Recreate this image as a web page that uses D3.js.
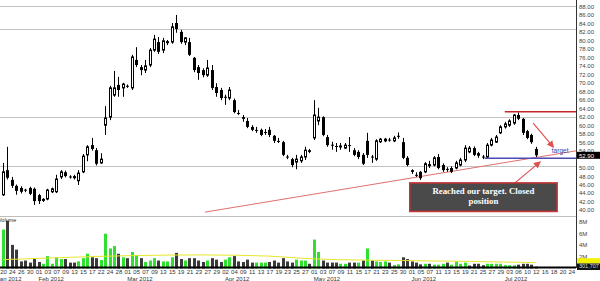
<!DOCTYPE html>
<html>
<head>
<meta charset="utf-8">
<script src="https://cdn.jsdelivr.net/npm/d3@7"></script>
<style>
  body { margin: 0; background: #fff; }
  svg { display: block; }
</style>
</head>
<body>
<div id="chart"></div>
<script>
// OHLC per trading day, Jan 20 2012 (index 0) .. Jul 12 2012 (index 120)
const opens = [
  43.6, 49.4, 47.1, 45.7, 45.2, 44.8, 45.2, 45.0, 43.5, 42.4,
  42.6, 44.3, 44.3, 47.8, 48.9, 47.9, 48.0, 46.9, 49.0, 53.0,
  55.3, 54.1, 51.1, 60.0, 61.9, 67.1, 69.5, 68.8, 69.3, 68.8,
  75.4, 73.7, 73.0, 74.2, 77.7, 79.6, 77.7, 79.6, 79.6, 84.1,
  82.0, 79.6, 79.6, 75.9, 73.7, 73.0, 71.8, 73.0, 69.0, 68.3,
  66.7, 66.4, 65.9, 62.9, 61.9, 61.0, 59.6, 58.9, 58.9, 58.4,
  58.9, 57.5, 56.3, 56.0, 52.6, 52.0, 51.3, 51.6, 52.5, 54.1,
  57.0, 61.0, 61.9, 57.2, 55.4, 55.1, 55.0, 54.6, 55.3, 54.1,
  53.7, 53.0, 56.3, 52.6, 52.0, 56.1, 56.3, 56.6, 56.3, 57.5,
  56.0, 52.3, 49.4, 48.3, 49.0, 49.0, 50.6, 50.6, 52.5, 50.6,
  49.7, 49.9, 49.9, 50.6, 51.8, 53.7, 54.6, 53.4, 52.6, 52.5,
  55.3, 56.0, 58.2, 59.6, 60.0, 60.5, 62.4, 61.5, 58.6, 57.7,
  54.4
];
const highs = [
  51.1, 54.9, 47.8, 46.0, 45.6, 45.0, 45.5, 45.3, 43.8, 42.8,
  45.0, 45.3, 48.3, 49.4, 49.3, 48.2, 48.3, 49.4, 53.2, 55.3,
  57.0, 54.6, 53.4, 64.5, 69.3, 72.8, 71.4, 70.0, 69.6, 76.6,
  78.4, 74.2, 75.4, 78.2, 81.3, 80.8, 80.6, 80.1, 84.1, 86.0,
  82.5, 80.8, 80.6, 76.1, 74.2, 73.4, 75.4, 74.2, 69.9, 68.8,
  67.2, 69.0, 66.3, 63.6, 62.4, 61.7, 60.0, 59.6, 59.2, 59.1,
  59.6, 57.7, 57.0, 56.3, 53.0, 52.3, 53.0, 53.0, 54.9, 54.4,
  65.9, 64.1, 62.1, 57.7, 56.1, 55.8, 55.8, 55.8, 57.2, 54.6,
  54.1, 53.4, 58.2, 53.0, 56.7, 57.0, 57.0, 57.0, 57.5, 58.3,
  57.0, 52.7, 49.6, 48.9, 49.2, 51.3, 51.6, 52.7, 53.2, 51.0,
  50.1, 50.3, 51.6, 52.3, 55.3, 55.1, 55.0, 53.7, 53.0, 55.8,
  57.0, 57.7, 60.0, 60.8, 61.4, 62.6, 63.0, 61.7, 58.9, 58.0,
  54.9
];
const lows = [
  43.3, 47.2, 45.2, 43.6, 43.9, 44.2, 43.5, 41.2, 41.4, 41.9,
  42.3, 44.0, 44.0, 47.3, 47.7, 47.4, 47.2, 45.9, 48.7, 51.5,
  54.0, 50.5, 50.9, 57.7, 61.2, 66.7, 66.7, 66.7, 68.8, 68.3,
  73.7, 71.8, 72.3, 73.7, 77.3, 76.8, 77.0, 78.9, 79.2, 81.8,
  79.2, 78.9, 76.3, 72.5, 70.7, 71.3, 71.4, 68.3, 66.7, 65.9,
  64.8, 65.9, 62.8, 62.4, 60.8, 59.3, 58.6, 58.2, 57.4, 57.7,
  57.2, 55.8, 55.8, 52.7, 52.0, 50.1, 49.6, 51.1, 51.8, 53.4,
  56.5, 60.0, 57.4, 54.9, 54.2, 53.7, 54.2, 54.4, 53.7, 52.7,
  52.0, 50.6, 52.3, 51.1, 51.6, 55.8, 56.0, 56.1, 56.0, 56.8,
  52.0, 50.3, 48.5, 47.8, 47.1, 48.7, 49.9, 50.3, 49.6, 49.0,
  49.0, 48.7, 49.6, 50.3, 51.3, 53.4, 52.7, 52.3, 52.0, 52.1,
  55.0, 55.8, 57.9, 59.2, 59.6, 60.1, 61.2, 57.7, 56.7, 55.6,
  52.5
];
const closes = [
  49.0, 47.6, 45.7, 44.5, 44.3, 44.7, 43.8, 42.1, 42.1, 42.5,
  44.7, 45.0, 47.3, 49.0, 48.0, 47.8, 47.5, 48.7, 52.7, 54.9,
  54.4, 50.9, 52.0, 61.7, 68.8, 68.8, 68.3, 69.7, 69.2, 76.1,
  74.2, 73.0, 74.0, 77.7, 80.3, 77.3, 79.9, 79.7, 83.2, 82.7,
  79.6, 80.6, 76.6, 73.0, 72.3, 71.8, 73.5, 68.8, 67.6, 66.4,
  66.6, 68.3, 63.1, 62.7, 61.5, 59.6, 58.9, 58.8, 57.7, 58.3,
  57.7, 56.3, 56.2, 53.0, 52.5, 50.6, 52.0, 52.5, 54.1, 53.7,
  62.4, 61.9, 57.7, 55.3, 55.3, 55.0, 55.1, 55.3, 55.2, 53.0,
  52.5, 50.9, 53.0, 52.5, 56.3, 56.7, 56.7, 56.5, 57.0, 57.4,
  52.3, 50.6, 49.0, 48.2, 47.5, 50.9, 50.7, 52.3, 49.9, 49.4,
  49.6, 49.0, 51.1, 51.8, 54.6, 54.6, 53.0, 52.8, 52.5, 55.3,
  56.5, 57.2, 59.6, 60.3, 61.0, 62.4, 61.5, 58.2, 57.0, 56.0,
  52.9
];

// volume in millions, and whether the bar is drawn green
const volumes = [
  6.6, 8.1, 4.0, 3.2, 1.2, 1.35, 1.0, 1.75, 1.1, 0.8,
  2.1, 0.8, 1.9, 1.6, 1.6, 1.0, 1.0, 1.2, 1.75, 2.5,
  1.9, 1.75, 1.45, 5.9, 3.4, 3.8, 2.5, 1.9, 1.75, 2.8,
  2.3, 1.75, 1.1, 1.35, 1.75, 1.35, 1.2, 1.2, 1.9, 2.65,
  1.6, 1.35, 1.75, 1.75, 1.35, 1.1, 1.35, 1.75, 1.5, 1.1,
  1.5, 1.9, 2.1, 1.2, 1.1, 1.5, 1.0, 1.0, 1.0, 1.0,
  1.1, 1.35, 1.0, 1.75, 1.2, 1.0, 1.5, 1.35, 1.35, 0.8,
  4.9, 2.8, 1.35, 1.0, 1.0, 1.0, 0.8, 0.8, 1.0, 1.0,
  1.0, 1.35, 3.4, 1.35, 1.2, 1.1, 1.2, 1.0, 0.6, 0.7,
  1.9, 1.6, 1.2, 1.0, 0.7, 0.8, 0.8, 0.65, 0.65, 0.8,
  1.0, 0.65, 1.2, 0.8, 1.0, 0.5, 0.8, 0.8, 0.55, 0.8,
  0.8, 0.8, 0.8, 0.55, 0.55, 0.55, 0.65, 0.8, 0.8, 0.65,
  0.3
];
const volUp = [
  1,0,0,0,0,0,0,0,0,1,
  1,1,1,1,0,0,0,1,1,1,
  0,0,1,1,1,1,0,1,0,1,
  1,0,1,1,1,0,1,1,1,0,
  0,1,0,0,0,0,1,0,0,0,
  1,1,0,0,0,0,0,1,1,1,
  0,0,0,0,0,0,1,1,1,0,
  1,1,0,0,0,0,1,1,0,0,
  1,0,1,0,1,1,1,0,1,1,
  0,0,0,0,0,1,0,1,1,1,
  0,1,1,1,1,0,0,0,0,1,
  1,1,1,1,1,1,0,0,0,0,
  0
];

// volume moving average, read at some days
const maIdx = [0, 15, 30, 45, 60, 67, 75, 90, 105, 120];
const maVal = [1.5, 1.9, 2.2, 2.3, 2.1, 1.75, 1.5, 1.35, 1.2, 1.0];

// day labels every 2 trading days (index 0, 2, 4 ... 128)
const dayLabels = [
  "20","24","26","30","01","03","07","09","13","15","17","22","24","28",
  "01","05","07","09","13","15","19","21","23","27","29",
  "02","04","09","11","13","17","19","23","25","27",
  "01","03","07","09","11","15","17","21","23","25","30",
  "01","05","07","11","13","15","19","21","25","27","29",
  "03","06","10","12","16","18","20","24"
];
const monthNames = ["Jan 2012", "Feb 2012", "Mar 2012", "Apr 2012", "May 2012", "Jun 2012", "Jul 2012"];
const monthIdx = [-1.4, 8, 28, 50, 70, 92, 113];

const gridLevels = [88, 82.6, 62, 50.4];
// 52.00 sits under the last-price box
const priceTicks = d3.range(40, 91, 2).filter(d => d !== 52);
const volTicks = [2, 4, 6, 8];
const lastPrice = 52.90;
const lastVolText = "301,707";

// annotations (index, price)
const resistance = { from: 113, level: 63.2 };
const targetLine = { from: 108.5, level: 52.2 };
const trendIdx = [45.5, 129.3];
const trendVal = [39.5, 54.0];
const arrows = [
  { i1: 119.4, p1: 60.5, i2: 123.9, p2: 54.9 },
  { i1: 115.3, p1: 46.4, i2: 120.9, p2: 51.3 }
];
const noteText = ["Reached our target. Closed", "position"];

const width = 600;
const height = 281;
const plotRight = 576;

const svg = d3.select("#chart").append("svg")
  .attr("width", width)
  .attr("height", height)
  .style("font-family", "'Liberation Sans', Arial, sans-serif");

const x = d3.scaleLinear().domain([0, 129]).range([3, 575.8]);
const y = d3.scaleLinear().domain([40, 90]).range([210, -2]);
const yVol = d3.scaleLinear().domain([0, 8]).range([268.5, 221.3]);

const defs = svg.append("defs");
defs.append("clipPath").attr("id", "clipMain")
  .append("rect").attr("x", 0).attr("y", 0).attr("width", plotRight).attr("height", 215);
defs.append("marker")
  .attr("id", "arrowHead")
  .attr("viewBox", "0 0 10 10")
  .attr("refX", 8).attr("refY", 5)
  .attr("markerWidth", 6).attr("markerHeight", 6)
  .attr("orient", "auto")
  .append("path").attr("d", "M0,0 L10,5 L0,10 z").attr("fill", "#e05050");

const main = svg.append("g").attr("clip-path", "url(#clipMain)");

// grid lines
main.append("g").selectAll("line")
  .data(gridLevels)
  .join("line")
  .attr("x1", 0).attr("x2", plotRight)
  .attr("y1", d => Math.round(y(d)) + 0.5)
  .attr("y2", d => Math.round(y(d)) + 0.5)
  .attr("stroke", "#c4c4c4");

// trend line
main.append("line")
  .attr("x1", x(trendIdx[0])).attr("y1", y(trendVal[0]))
  .attr("x2", x(trendIdx[1])).attr("y2", y(trendVal[1]))
  .attr("stroke", "#e07070").attr("stroke-width", 1);

// candles
const candles = closes.map((c, i) => ({ i: i, o: opens[i], h: highs[i], l: lows[i], c: c }));
const cx = d => Math.round(x(d.i));

main.append("g").selectAll("line")
  .data(candles)
  .join("line")
  .attr("x1", d => cx(d) + 0.5).attr("x2", d => cx(d) + 0.5)
  .attr("y1", d => y(d.h)).attr("y2", d => y(d.l))
  .attr("stroke", "#000");

main.append("g").selectAll("rect")
  .data(candles)
  .join("rect")
  .attr("x", d => d.c >= d.o ? cx(d) - 0.5 : cx(d) - 1)
  .attr("width", d => d.c >= d.o ? 2 : 3)
  .attr("y", d => y(Math.max(d.o, d.c)))
  .attr("height", d => Math.max(1, y(Math.min(d.o, d.c)) - y(Math.max(d.o, d.c))))
  .attr("fill", d => d.c >= d.o ? "#fff" : "#000")
  .attr("stroke", d => d.c >= d.o ? "#000" : "none")
  .attr("stroke-width", 1);

// resistance and target lines
main.append("line")
  .attr("x1", x(resistance.from)).attr("x2", plotRight)
  .attr("y1", y(resistance.level)).attr("y2", y(resistance.level))
  .attr("stroke", "#c0282d").attr("stroke-width", 1.5);
main.append("line")
  .attr("x1", x(targetLine.from)).attr("x2", plotRight)
  .attr("y1", y(targetLine.level)).attr("y2", y(targetLine.level))
  .attr("stroke", "#4b4bb4").attr("stroke-width", 1.5);

// arrows
main.append("g").selectAll("line")
  .data(arrows)
  .join("line")
  .attr("x1", d => x(d.i1)).attr("y1", d => y(d.p1))
  .attr("x2", d => x(d.i2)).attr("y2", d => y(d.p2))
  .attr("stroke", "#e05050").attr("stroke-width", 1.2)
  .attr("marker-end", "url(#arrowHead)");

main.append("text")
  .attr("x", x(123.6)).attr("y", y(53.4))
  .attr("font-size", 6.5)
  .attr("fill", "#4040a0")
  .text("target");

// note box
const bx0 = x(91.6), bx1 = x(124.8), by0 = y(46.4), by1 = y(39.65);
main.append("rect")
  .attr("x", bx0).attr("y", by0)
  .attr("width", bx1 - bx0).attr("height", by1 - by0)
  .attr("fill", "#4a4a4a")
  .attr("stroke", "#cc3333").attr("stroke-width", 1.5);
main.append("g").selectAll("text")
  .data(noteText)
  .join("text")
  .attr("x", (bx0 + bx1) / 2)
  .attr("y", (d, k) => by0 + 11.5 + k * 9.5)
  .attr("text-anchor", "middle")
  .attr("font-family", "'Liberation Serif', 'Times New Roman', serif")
  .attr("font-weight", "bold")
  .attr("font-size", 8.8)
  .attr("fill", "#fff")
  .text(d => d);

// volume panel
svg.append("line")
  .attr("x1", 0).attr("x2", plotRight)
  .attr("y1", 216.5).attr("y2", 216.5)
  .attr("stroke", "#bdbdbd");

svg.append("g").selectAll("rect")
  .data(volumes)
  .join("rect")
  .attr("x", (d, i) => Math.round(x(i)) - 1)
  .attr("width", 3)
  .attr("y", d => yVol(d))
  .attr("height", d => yVol(0) - yVol(d))
  .attr("fill", (d, i) => volUp[i] ? "#2fe02f" : "#3a3a3a");

const maLine = d3.line()
  .x(d => x(d[0]))
  .y(d => yVol(d[1]))
  .curve(d3.curveMonotoneX);
svg.append("path")
  .datum(maIdx.map((d, k) => [d, maVal[k]]))
  .attr("d", maLine)
  .attr("fill", "none")
  .attr("stroke", "#e6e62a")
  .attr("stroke-width", 1);

svg.append("text")
  .attr("x", -2).attr("y", 222)
  .attr("font-size", 5.5)
  .attr("fill", "#333")
  .text("Volume");

svg.append("line")
  .attr("x1", 0).attr("x2", plotRight)
  .attr("y1", 267.5).attr("y2", 267.5)
  .attr("stroke", "#000").attr("stroke-width", 2);

// right axis
svg.append("line")
  .attr("x1", plotRight + 0.5).attr("x2", plotRight + 0.5)
  .attr("y1", 0).attr("y2", 268)
  .attr("stroke", "#333");

const priceAxis = d3.axisRight(y)
  .tickValues(priceTicks)
  .tickFormat(d3.format(".2f"))
  .tickSize(0)
  .tickPadding(3);
const gPrice = svg.append("g")
  .attr("transform", "translate(" + plotRight + ",0)")
  .call(priceAxis);
gPrice.select(".domain").remove();
gPrice.selectAll("text")
  .attr("font-size", 6)
  .attr("font-family", "'Liberation Sans', Arial, sans-serif")
  .attr("fill", "#444");

const volAxis = d3.axisRight(yVol)
  .tickValues(volTicks)
  .tickFormat(d => d + "M")
  .tickSize(0)
  .tickPadding(3);
const gVol = svg.append("g")
  .attr("transform", "translate(" + plotRight + ",0)")
  .call(volAxis);
gVol.select(".domain").remove();
gVol.selectAll("text")
  .attr("font-size", 6)
  .attr("font-family", "'Liberation Sans', Arial, sans-serif")
  .attr("fill", "#444");

// last price label
svg.append("rect")
  .attr("x", plotRight + 1).attr("y", y(lastPrice) - 3.5)
  .attr("width", 23).attr("height", 7)
  .attr("fill", "#000");
svg.append("text")
  .attr("x", plotRight + 3).attr("y", y(lastPrice) + 2.2)
  .attr("font-size", 6)
  .attr("fill", "#fff")
  .text(lastPrice.toFixed(2));

// volume MA / last volume labels
svg.append("rect")
  .attr("x", plotRight + 1).attr("y", yVol(1.75))
  .attr("width", 23).attr("height", yVol(0.85) - yVol(1.75))
  .attr("fill", "#f2f200");
svg.append("rect")
  .attr("x", plotRight + 1).attr("y", yVol(0.85))
  .attr("width", 23).attr("height", 6.5)
  .attr("fill", "#111");
svg.append("text")
  .attr("x", plotRight + 3).attr("y", yVol(0.85) + 5)
  .attr("font-size", 5.5)
  .attr("fill", "#ddd")
  .text(lastVolText);

// bottom axis
const dayAxis = d3.axisBottom(x)
  .tickValues(d3.range(0, 129, 2))
  .tickFormat(d => dayLabels[d / 2])
  .tickSize(0)
  .tickPadding(1.5);
const gDay = svg.append("g")
  .attr("transform", "translate(0,268)")
  .call(dayAxis);
gDay.select(".domain").remove();
gDay.selectAll("text")
  .attr("font-size", 6)
  .attr("font-family", "'Liberation Sans', Arial, sans-serif")
  .attr("fill", "#333");

svg.append("g").selectAll("text")
  .data(monthNames)
  .join("text")
  .attr("x", (d, k) => x(monthIdx[k]))
  .attr("y", 280.5)
  .attr("font-size", 6)
  .attr("fill", "#333")
  .text(d => d);
</script>
</body>
</html>
